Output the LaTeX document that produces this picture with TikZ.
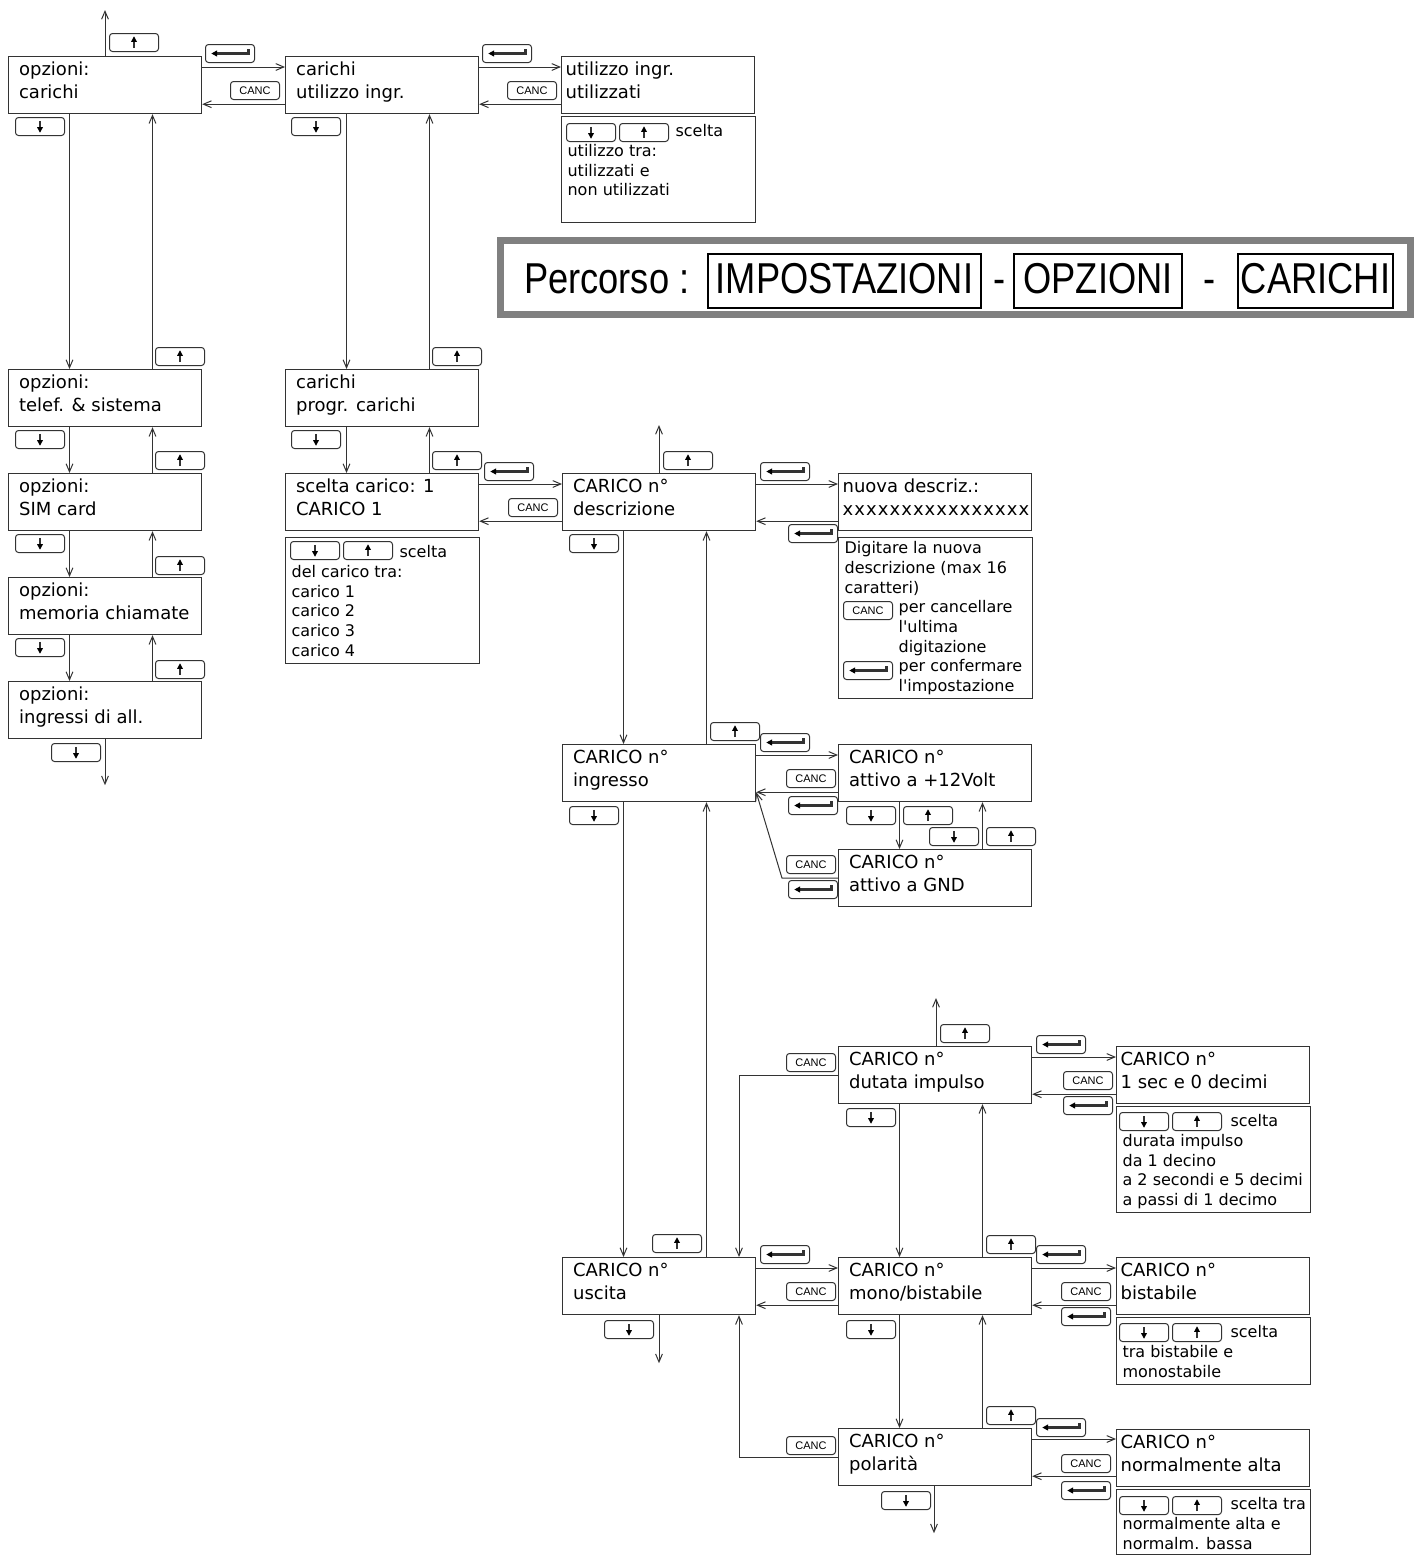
\documentclass[tikz,border=0pt]{standalone}
\usepackage{fontspec}
\setmainfont{DejaVu Sans}[Ligatures=TeXOff]
\newfontfamily\titolofont{Liberation Sans}[FakeStretch=0.84]
\newfontfamily\tastofont{Liberation Sans}
\usetikzlibrary{
  arrows.meta,  % 开口箭头
  positioning   % 节点相对定位
}
\definecolor{linea}{gray}{0.2}
\definecolor{cornice}{gray}{0.5}
\newcommand{\righe}[2][86pt]{\parbox[t]{#1}{\raggedright #2}}

\tikzset{
  menu/.style={draw=linea, line width=0.6pt, anchor=north west, minimum width=96.5pt,
    inner xsep=5pt, inner ysep=0pt, text height=9.5pt, text depth=19pt,
    font=\fontsize{9}{11.25}\selectfont},
  valore/.style={menu, inner xsep=2pt},
  info/.style={draw=linea, line width=0.6pt, anchor=north west, minimum width=97pt,
    inner xsep=3pt, inner ysep=0pt, text height=10pt,
    font=\fontsize{8}{9.85}\selectfont},
  tasto/.style={draw=linea, line width=0.5pt, rounded corners=1.5pt, anchor=north west,
    minimum width=24.5pt, minimum height=9pt, inner sep=0pt},
  giu/.style={tasto, path picture={
    \draw[sharp corners, line width=1.1pt, shift={(path picture bounding box.center)}] (0pt,2.8pt) -- (0pt,-0.6pt);
    \fill[sharp corners, shift={(path picture bounding box.center)}] (-1.5pt,-0.3pt) -- (1.5pt,-0.3pt) -- (0pt,-3.1pt) -- cycle;}},
  su/.style={tasto, path picture={
    \draw[sharp corners, line width=1.1pt, shift={(path picture bounding box.center)}] (0pt,-2.8pt) -- (0pt,0.6pt);
    \fill[sharp corners, shift={(path picture bounding box.center)}] (-1.5pt,0.3pt) -- (1.5pt,0.3pt) -- (0pt,3.1pt) -- cycle;}},
  invio/.style={tasto, path picture={
    \draw[sharp corners, line width=1.3pt, shift={(path picture bounding box.center)}] (-7pt,0pt) -- (9.3pt,0pt) -- (9.3pt,2.5pt);
    \fill[sharp corners, shift={(path picture bounding box.center)}] (-9.3pt,0pt) -- (-6.4pt,1.6pt) -- (-6.4pt,-1.6pt) -- cycle;}},
  canc/.style={tasto, font=\tastofont\fontsize{5.5}{6}\selectfont},
  titolo/.style={font=\titolofont\fontsize{21.6}{24}\selectfont},
  voce/.style={titolo, draw, line width=0.6pt, minimum height=27pt, inner sep=0pt,
    text height=12pt, text depth=0pt},
  freccia/.style={->, draw=linea, line width=0.5pt}
}

\begin{document}
\begin{tikzpicture}[>={Straight Barb[length=4pt,width=3.4pt]}, x=0.5pt, y=-0.5pt]
  \useasboundingbox (0,0) rectangle (1414,1555);

  % 左列：选项菜单
  \node[menu] (b1) at (8,56)  {\righe{opzioni:\\carichi}};
  \node[menu] (b2) at (8,369) {\righe{opzioni:\\telef. \& sistema}};
  \node[menu] (b3) at (8,473) {\righe{opzioni:\\SIM card}};
  \node[menu] (b4) at (8,577) {\righe{opzioni:\\memoria chiamate}};
  \node[menu] (b5) at (8,681) {\righe{opzioni:\\ingressi di all.}};

  % 第二列：carichi
  \node[menu] (c1) at (285,56)  {\righe{carichi\\utilizzo ingr.}};
  \node[menu] (c2) at (285,369) {\righe{carichi\\progr. carichi}};
  \node[menu] (c3) at (285,473) {\righe{scelta carico: 1\\CARICO 1}};
  \node[info, text depth=53pt] (c3info) at (285,537)
    {\righe[91pt]{\mbox{\hspace{54pt}scelta}\\del carico tra:\\carico 1\\carico 2\\carico 3\\carico 4}};

  % 输入使用
  \node[valore] (d1) at (561,56) {\righe[92.5pt]{utilizzo ingr.\\utilizzati}};
  \node[info, text depth=43pt] (d1info) at (561,116)
    {\righe[91pt]{\mbox{\hspace{54pt}scelta}\\utilizzo tra:\\utilizzati e\\non utilizzati}};

  % 第三列：CARICO n°
  \node[menu] (e1) at (562,473)  {\righe{CARICO n°\\descrizione}};
  \node[menu] (e2) at (562,744)  {\righe{CARICO n°\\ingresso}};
  \node[menu] (e3) at (562,1257) {\righe{CARICO n°\\uscita}};

  % 描述输入
  \node[valore] (f1) at (838,473)
    {\righe[92.5pt]{nuova descriz.:\\{\addfontfeature{LetterSpace=6}xxxxxxxxxxxxxxxx}}};
  \node[info, text height=8pt, text depth=72.5pt] (f1info) at (838,537)
    {\righe[91pt]{Digitare la nuova\\descrizione (max 16\\caratteri)\\
      \hspace*{27pt}per cancellare\\\hspace*{27pt}l'ultima\\\hspace*{27pt}digitazione\\
      \hspace*{27pt}per confermare\\\hspace*{27pt}l'impostazione}};

  % 输入极性
  \node[menu] (g1) at (838,744) {\righe{CARICO n°\\attivo a +12Volt}};
  \node[menu] (g2) at (838,849) {\righe{CARICO n°\\attivo a GND}};

  % 输出设置
  \node[menu] (h1) at (838,1046) {\righe{CARICO n°\\dutata impulso}};
  \node[menu] (h2) at (838,1257) {\righe{CARICO n°\\mono/bistabile}};
  \node[menu] (h3) at (838,1428) {\righe{CARICO n°\\polarità}};

  \node[valore] (i1) at (1116,1046) {\righe[92.5pt]{CARICO n°\\1 sec e 0 decimi}};
  \node[info, text depth=43pt] (i1info) at (1116,1106)
    {\righe[91pt]{\mbox{\hspace{54pt}scelta}\\durata impulso\\da 1 decino\\a 2 secondi e 5 decimi\\a passi di 1 decimo}};
  \node[valore] (i2) at (1116,1257) {\righe[92.5pt]{CARICO n°\\bistabile}};
  \node[info, text depth=23.5pt] (i2info) at (1116,1317)
    {\righe[91pt]{\mbox{\hspace{54pt}scelta}\\tra bistabile e\\monostabile}};
  \node[valore] (i3) at (1116,1429) {\righe[92.5pt]{CARICO n°\\normalmente alta}};
  \node[info, text depth=22.5pt] (i3info) at (1116,1489)
    {\righe[91pt]{\mbox{\hspace{54pt}scelta tra}\\normalmente alta e\\normalm. bassa}};

  % 路径标题框
  \draw[cornice, line width=3.5pt] (500.5,240.5) rectangle (1410.5,314.5);
  \node[titolo, anchor=base west] (percorso) at (517,293) {Percorso :};
  \node[voce, minimum width=136.5pt] (impo) at (844.5,281) {IMPOSTAZIONI};
  \node[titolo, anchor=base] (trat1) at (1000,293) {-};
  \node[voce, minimum width=84pt] (opz) at (1098,281) {OPZIONI};
  \node[titolo, anchor=base] (trat2) at (1210,293) {-};
  \node[voce, minimum width=77.5pt] (car) at (1315.5,281) {CARICHI};

  % 按键
  \foreach \x/\y [count=\i] in {109/33, 155/347, 155/451, 155/556, 155/660, 432/347, 432/451,
      619/123, 343/541, 663/451, 710/722, 903/806, 986/827, 652/1234, 940/1024, 1172/1112,
      986/1235, 1172/1323, 986/1406, 1172/1496}
    \node[su] (su\i) at (\x,\y) {};
  \foreach \x/\y [count=\i] in {15/117, 15/430, 15/534, 15/638, 51/743, 291/117, 291/430,
      566/123, 290/541, 569/534, 569/806, 846/806, 929/827, 604/1320, 846/1108, 1119/1112,
      846/1320, 1119/1323, 881/1491, 1119/1496}
    \node[giu] (giu\i) at (\x,\y) {};
  \foreach \x/\y [count=\i] in {205/44, 482/44, 484/462, 760/462, 788/524, 843/661, 760/733,
      788/796, 788/880, 760/1245, 1036/1035, 1063/1096, 1036/1245, 1061/1307, 1036/1418, 1061/1481}
    \node[invio] (invio\i) at (\x,\y) {};
  \foreach \x/\y [count=\i] in {230/81, 507/81, 508/498, 843/601, 786/769, 786/855, 786/1282,
      786/1053, 1063/1071, 1061/1282, 786/1436, 1061/1454}
    \node[canc] (canc\i) at (\x,\y) {CANC};

  % 横向连线
  \foreach \a/\b in {b1/c1, c1/d1, c3/e1, e1/f1, e2/g1, e3/h2, h1/i1, h2/i2, h3/i3} {
    \path ([yshift=-5.5pt]\a.north east) coordinate (avanti);
    \draw[freccia] (avanti) -- (avanti -| \b.west);
    \path ([yshift=5pt]\a.south east) coordinate (indietro);
    \draw[freccia] (indietro -| \b.west) -- (indietro);
  }

  % 纵向连线
  \foreach \a/\b in {b1/b2, b2/b3, b3/b4, b4/b5, c1/c2, c2/c3, e1/e2, e2/e3, g1/g2, h1/h2, h2/h3} {
    \draw[freccia] ([xshift=30.75pt]\a.south west) -- ([xshift=30.75pt]\b.north west);
    \draw[freccia] ([xshift=72.25pt]\b.north west) -- ([xshift=72.25pt]\a.south west);
  }

  % 自由端
  \draw[freccia] ([xshift=48.5pt]b1.north west) -- ++(0pt,23pt) coordinate (b1fine);
  \draw[freccia] ([xshift=48.5pt]b5.south west) -- ++(0pt,-23pt) coordinate (b5fine);
  \draw[freccia] ([xshift=48.5pt]e1.north west) -- ++(0pt,24pt) coordinate (e1fine);
  \draw[freccia] ([xshift=48.5pt]e3.south west) -- ++(0pt,-24pt) coordinate (e3fine);
  \draw[freccia] ([xshift=49pt]h1.north west) -- ++(0pt,24pt) coordinate (h1fine);
  \draw[freccia] ([xshift=48pt]h3.south west) -- ++(0pt,-23.5pt) coordinate (h3fine);

  % 返回连线
  \draw[freccia] (g2.west) -- ++(-28pt,0pt) -- ([yshift=5pt]e2.south east);
  \draw[freccia] (h1.west) -| ([xshift=88.5pt]e3.north west);
  \draw[freccia] (h3.west) -| ([xshift=88.5pt]e3.south west);
\end{tikzpicture}
\end{document}
